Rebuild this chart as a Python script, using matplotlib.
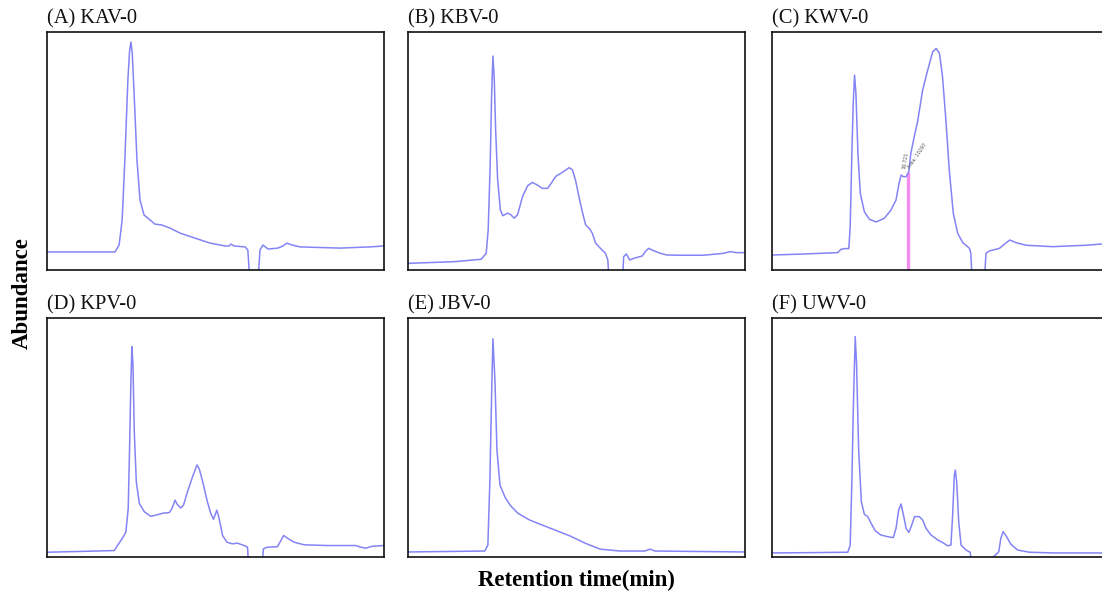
import matplotlib
matplotlib.use("Agg")
import matplotlib.pyplot as plt

# ---------------- data (retention time in % of run, abundance in % of scale) -------------
titles = ["(A) KAV-0", "(B) KBV-0", "(C) KWV-0", "(D) KPV-0", "(E) JBV-0", "(F) UWV-0"]

t_A = [0, 20.2, 21.4, 22.3, 23.1, 24.0, 24.5, 24.9, 25.3, 25.8, 26.7, 27.6, 28.8, 30.6, 32.0, 34.1, 36.5,
       39.5, 43.9, 48.4, 52.8, 54.0, 54.6, 55.5, 58.8, 59.6, 60.2, 62.6, 63.2, 64.1, 65.6, 68.5,
       70.0, 71.2, 72.7, 75.1, 86.9, 95.8, 100]
a_A = [7.6, 7.6, 10.5, 21.0, 46.2, 79.8, 92.0, 95.8, 91.0, 75.6, 46.2, 29.4, 23.1, 21.0, 19.3, 18.9, 17.6,
       15.5, 13.4, 11.3, 10.1, 10.1, 10.9, 10.1, 9.7, 8.4, -5, -5, 8.4, 10.5, 8.8, 9.2,
       10.1, 11.3, 10.5, 9.7, 9.2, 9.7, 10.1]

t_B = [0, 13.8, 21.7, 23.2, 23.8, 24.4, 24.8, 25.2, 25.6, 26.0, 26.6, 27.4, 28.1, 29.6, 30.5,
       31.5, 32.5, 34.0, 35.5, 36.9, 38.4, 39.9, 41.4, 42.4, 43.8, 45.8, 47.8, 48.8, 49.8, 50.7,
       51.7, 52.7, 54.0, 54.7, 55.7, 57.1, 58.6, 59.3, 59.7, 63.6, 64.0, 64.8, 65.8, 67.0, 69.5,
       70.4, 71.4, 72.9, 74.9, 76.8, 80.8, 87.7, 93.6, 95.6, 97.5, 100]
a_B = [2.8, 3.5, 4.5, 7.0, 16.9, 44.9, 73.0, 89.9, 80.1, 59.0, 37.9, 25.3, 22.8, 23.9, 23.2,
       21.8, 23.2, 30.9, 35.4, 36.8, 35.7, 34.3, 34.3, 36.2, 39.3, 41.0, 43.0, 42.1, 37.2, 30.9,
       24.6, 19.0, 17.1, 15.4, 11.2, 9.1, 7.0, 4.2, -5.6, -5.6, 5.6, 6.7, 4.2, 4.9, 5.9,
       7.7, 9.1, 8.1, 7.0, 6.3, 6.2, 6.2, 7.0, 7.7, 7.3, 7.3]

t_C = [0, 9.1, 19.5, 20.5, 21.5, 22.8, 23.2, 23.7, 24.1, 24.5, 24.9, 25.5, 26.2, 27.4, 28.9,
       30.9, 33.3, 35.3, 36.8, 37.6, 38.3, 39.0, 39.8, 40.6, 41.2, 42.3, 43.2, 44.7, 46.2, 47.7,
       48.7, 49.7, 50.6, 51.6, 52.6, 53.8, 55.1, 56.6, 58.6, 59.0, 59.4, 63.0, 63.5, 64.5, 67.5,
       69.0, 70.6, 72.4, 75.4, 83.3, 93.2, 97.6, 100]
a_C = [6.3, 6.7, 7.3, 8.7, 9.0, 9.0, 18.2, 49.0, 70.0, 81.9, 74.2, 49.0, 32.2, 24.5, 21.3,
       20.2, 21.7, 25.2, 29.4, 35.7, 39.9, 39.2, 39.2, 41.3, 49.0, 56.7, 62.3, 75.6, 84.0, 91.7,
       93.1, 91.0, 81.2, 63.0, 42.0, 23.8, 15.4, 11.5, 9.1, 7.0, -5, -5, 7.0, 8.0, 9.1,
       10.9, 12.6, 11.5, 10.4, 9.8, 10.4, 10.9, 10.9]
peak_C_time = 40.3
peak_C_abund = 41.3
peak_C_labels = ["16.721", "Area: 10297"]

t_D = [0, 9.1, 20.0, 20.9, 22.4, 23.4, 24.1, 24.5, 24.9, 25.2, 25.5, 25.9, 26.5, 27.4, 28.9,
       30.8, 32.8, 34.3, 36.3, 37.1, 38.0, 38.7, 39.7, 40.5, 41.7, 43.2, 44.5, 45.2, 46.2, 47.6,
       48.6, 49.4, 50.4, 51.1, 52.1, 53.4, 55.0, 56.5, 58.5, 59.5, 59.9, 63.8, 64.2, 65.4, 68.4,
       69.4, 70.2, 71.3, 73.3, 76.3, 83.2, 91.6, 93.1, 94.6, 96.5, 100]
a_D = [2.0, 2.3, 2.7, 4.8, 7.9, 10.4, 20.3, 45.5, 73.6, 88.0, 80.7, 52.6, 31.5, 22.4, 18.9,
       17.0, 17.7, 18.3, 18.6, 20.3, 23.8, 21.9, 20.5, 21.7, 27.3, 33.6, 38.5, 36.8, 31.5, 23.1,
       18.2, 15.8, 19.6, 16.0, 9.0, 6.2, 5.5, 5.8, 4.8, 4.1, -5, -5, 3.4, 4.1, 4.3,
       6.9, 9.0, 7.9, 6.2, 5.1, 4.8, 4.8, 4.1, 3.7, 4.5, 4.8]

t_E = [0, 22.8, 23.7, 24.3, 24.9, 25.2, 25.8, 26.4, 27.3, 28.8, 30.3, 32.6, 36.2, 42.1, 48.1,
       52.5, 57.0, 62.9, 70.3, 71.8, 73.3, 100]
a_E = [2.1, 2.5, 5.0, 32.1, 73.8, 91.3, 73.8, 44.6, 30.0, 25.0, 21.7, 18.3, 15.4, 12.1, 8.8,
       5.8, 3.3, 2.5, 2.5, 3.3, 2.5, 2.1]

t_F = [0, 9.1, 22.5, 23.2, 23.7, 24.2, 24.7, 25.1, 25.7, 26.5, 27.4, 28.4, 29.4, 30.7, 32.3,
       34.3, 36.0, 36.8, 37.6, 38.3, 39.0, 39.8, 40.6, 41.3, 42.3, 43.7, 44.7, 45.7, 47.2, 49.2,
       50.6, 52.1, 53.1, 53.6, 54.1, 54.4, 54.8, 55.4, 56.1, 57.6, 58.8, 59.2, 64.0, 66.5, 67.3,
       67.9, 68.6, 69.6, 70.9, 72.9, 76.4, 83.3, 100]
a_F = [1.7, 1.8, 2.0, 5.0, 31.5, 66.4, 92.2, 80.3, 45.5, 23.2, 17.9, 16.9, 14.1, 10.9, 9.2,
       8.5, 8.1, 12.0, 19.7, 22.2, 17.6, 12.0, 10.3, 12.7, 16.9, 16.9, 15.5, 12.0, 9.2, 7.1,
       6.1, 4.7, 5.0, 17.6, 34.3, 36.4, 31.5, 14.8, 5.0, 2.9, 2.0, -2, -2, 1.1, 2.2,
       7.8, 10.6, 8.5, 5.3, 2.9, 2.0, 1.7, 1.7]

series = [(t_A, a_A), (t_B, a_B), (t_C, a_C), (t_D, a_D), (t_E, a_E), (t_F, a_F)]

x_label = "Retention time(min)"
y_label = "Abundance"

# ---------------- figure -------------
W, H = 1102, 595
fig = plt.figure(figsize=(W / 100, H / 100), dpi=100)
serif = ["Liberation Serif", "DejaVu Serif"]

col_left = [47, 408, 772]
row_top = [32, 318]
row_bot = [270, 557]
ax_w = 337

line_color = "#8484f5"

for i, (t, a) in enumerate(series):
    r, c = divmod(i, 3)
    left = col_left[c] / W
    bottom = 1 - row_bot[r] / H
    height = (row_bot[r] - row_top[r]) / H
    ax = fig.add_axes([left, bottom, ax_w / W, height])
    ax.plot(t, a, color=line_color, lw=1.1, solid_joinstyle="round")
    ax.set_xlim(0, 100)
    ax.set_ylim(0, 100)
    ax.set_xticks([])
    ax.set_yticks([])
    for s in ax.spines.values():
        s.set_linewidth(1.2)
        s.set_color("#111111")
    ax.text(0, 1.014, titles[i], transform=ax.transAxes, ha="left", va="bottom",
            fontsize=14.8, family=serif, color="#111111")
    if i == 2:
        ax.plot([peak_C_time, peak_C_time], [0, peak_C_abund], color="#f58cf0", lw=2.4,
                solid_capstyle="butt", zorder=1)
        ax.text(peak_C_time - 0.6, peak_C_abund + 1, peak_C_labels[0], rotation=80,
                fontsize=3.5, color="#555555", ha="center", va="bottom")
        ax.text(peak_C_time + 0.8, peak_C_abund + 1, peak_C_labels[1], rotation=55,
                fontsize=3.5, color="#555555", ha="left", va="bottom",
                rotation_mode="anchor")

fig.text(22 / W, 1 - 293 / H, y_label, rotation=90, ha="center", va="center",
         fontsize=16.5, fontweight="bold", family=serif)
fig.text(576 / W, 1 - 580 / H, x_label, ha="center", va="center",
         fontsize=16.5, fontweight="bold", family=serif)

fig.savefig("out.png", dpi=100)
